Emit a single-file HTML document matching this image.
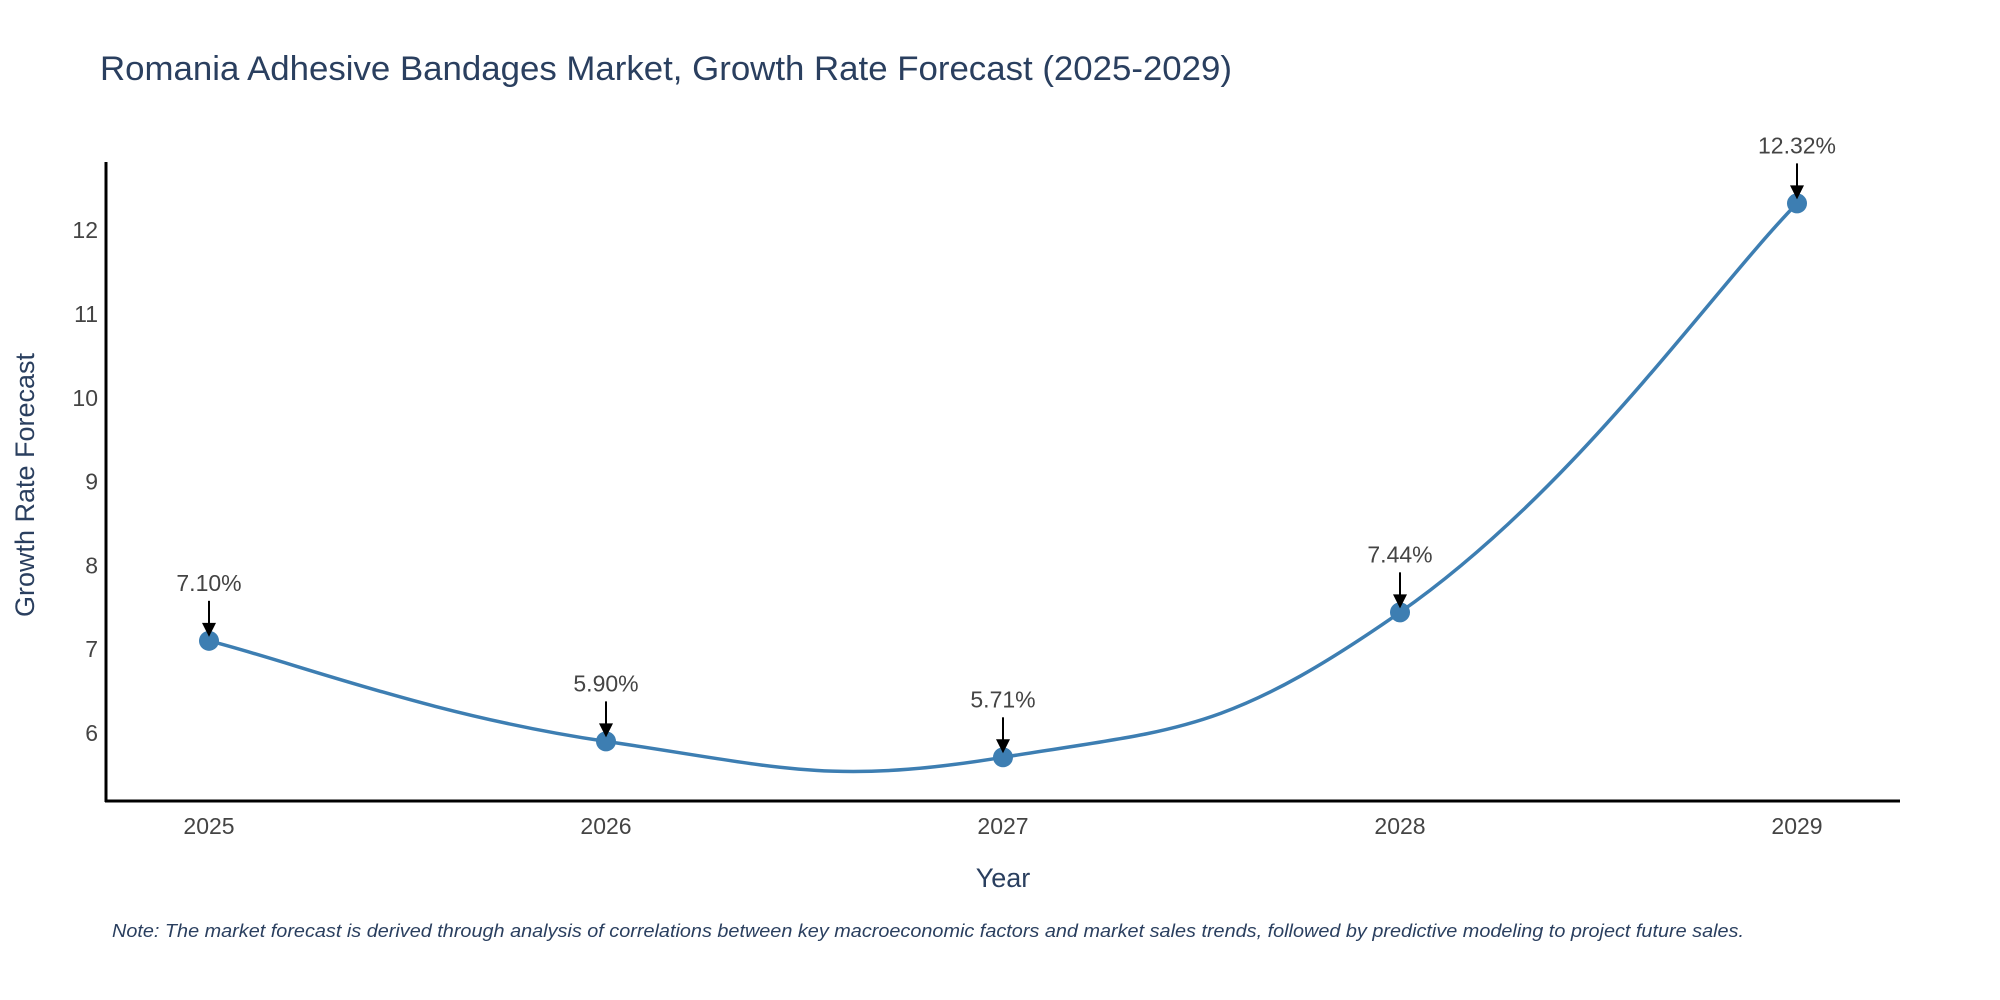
<!DOCTYPE html>
<html><head><meta charset="utf-8"><style>
html,body{margin:0;padding:0;background:#fff;}
svg{display:block;font-family:"Liberation Sans","DejaVu Sans",sans-serif;}
</style></head><body>
<svg id="chart" width="2000" height="1000" viewBox="0 0 2000 1000">
<text x="100" y="80" font-size="34" fill="#2a3f5f" textLength="1132" lengthAdjust="spacingAndGlyphs">Romania Adhesive Bandages Market, Growth Rate Forecast (2025-2029)</text>
<g id="plot"></g>
<line x1="106" y1="162" x2="106" y2="802" stroke="#000" stroke-width="3"/>
<line x1="105" y1="801" x2="1900" y2="801" stroke="#000" stroke-width="3"/>
<text x="0" y="0" transform="translate(34,485) rotate(-90)" text-anchor="middle" font-size="27" fill="#2a3f5f">Growth Rate Forecast</text>
<text x="1003" y="887" text-anchor="middle" font-size="27" fill="#2a3f5f">Year</text>
<text x="112" y="937" font-size="18" font-style="italic" fill="#2a3f5f" textLength="1632" lengthAdjust="spacingAndGlyphs">Note: The market forecast is derived through analysis of correlations between key macroeconomic factors and market sales trends, followed by predictive modeling to project future sales.</text>
</svg>
<script>
const years = ["2025","2026","2027","2028","2029"];
const growth = [7.10, 5.90, 5.71, 7.44, 12.32];
const valueLabels = ["7.10%","5.90%","5.71%","7.44%","12.32%"];
const yTicks = [6,7,8,9,10,11,12];

const NS = "http://www.w3.org/2000/svg";
const g = document.getElementById("plot");
function xS(i){ return 209 + i * 397; }
function yS(v){ return 733 - (v - 6) * 83.8; }
function mk(tag, attrs){ const e = document.createElementNS(NS, tag); for (const k in attrs) e.setAttribute(k, attrs[k]); g.appendChild(e); return e; }

yTicks.forEach(t => {
  const e = mk("text", {x: 98, y: yS(t) + 8, "text-anchor": "end", "font-size": 23, fill: "#444"});
  
  
  e.textContent = t;
});
years.forEach((yr, i) => {
  const e = mk("text", {x: xS(i), y: 834, "text-anchor": "middle", "font-size": 23, fill: "#444"});
  
  
  e.textContent = yr;
});

const pts = growth.map((v, i) => [xS(i), yS(v)]);
let d = "M" + pts[0][0] + "," + pts[0][1];
for (let i = 0; i < pts.length - 1; i++) {
  const p0 = pts[Math.max(0, i - 1)], p1 = pts[i], p2 = pts[i + 1], p3 = pts[Math.min(pts.length - 1, i + 2)];
  const t = 0.22;
  const c1 = [p1[0] + (p2[0] - p0[0]) * t, p1[1] + (p2[1] - p0[1]) * t];
  const c2 = [p2[0] - (p3[0] - p1[0]) * t, p2[1] - (p3[1] - p1[1]) * t];
  d += " C" + c1[0] + "," + c1[1] + " " + c2[0] + "," + c2[1] + " " + p2[0] + "," + p2[1];
}
const line = mk("path", {d: d, fill: "none", stroke: "#3d7eb2", "stroke-width": 3.5});



pts.forEach((p, i) => {
  const c = mk("circle", {cx: p[0], cy: p[1], r: 10, fill: "#3d7eb2"});
  
  
  const a = mk("line", {x1: p[0], y1: p[1] - 40, x2: p[0], y2: p[1] - 6, stroke: "#000", "stroke-width": 2});
  
  
  const h = mk("path", {d: "M" + (p[0] - 7) + "," + (p[1] - 18) + " L" + (p[0] + 7) + "," + (p[1] - 18) + " L" + p[0] + "," + (p[1] - 4) + " z", fill: "#000"});
  
  
  const t = mk("text", {x: p[0], y: p[1] - 50, "text-anchor": "middle", "font-size": 23, fill: "#444"});
  
  
  t.textContent = valueLabels[i];
});
</script>
</body></html>
